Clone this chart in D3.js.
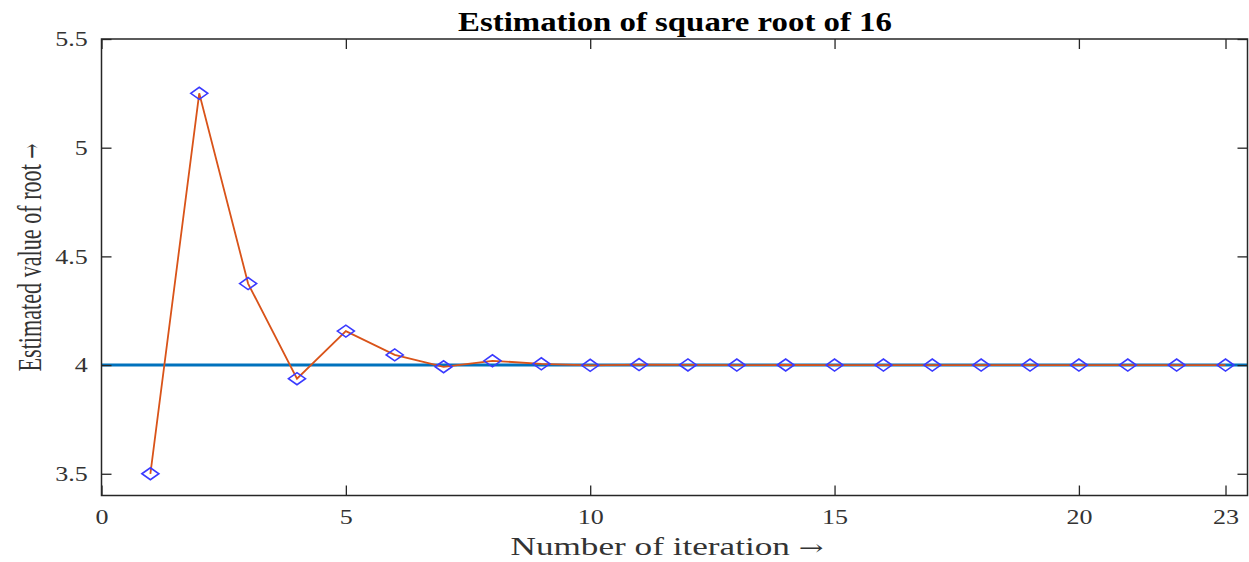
<!DOCTYPE html>
<html><head><meta charset="utf-8">
<script src="https://cdn.jsdelivr.net/npm/d3@7"></script>
<style>body{margin:0;background:#fff}svg{display:block}</style>
</head><body><svg id="c" width="1249" height="562"></svg>
<script>
const iterations = [1,2,3,4,5,6,7,8,9,10,11,12,13,14,15,16,17,18,19,20,21,22,23];
const estimates = [3.5,5.25,4.375,3.9375,4.15625,4.046875,3.9921875,4.0195313,4.0058594,3.9990234,4.0024414,4.0007324,3.9998779,4.0003052,4.0000916,3.9999847,4.0000381,4.0000114,3.9999981,4.0000048,4.0000014,3.9999998,4.0000006];
const trueRoot = 4;
const xTicks = [0,5,10,15,20,23];
const yTicks = [3.5,4,4.5,5,5.5];
const titleText = "Estimation of square root of 16";
const xLabelText = "Number of iteration";
const yLabelText = "Estimated value of root";
const arrow = "\u2192";

const svg = d3.select("#c");
const L=101.5, R=1247.5, T=39, B=495.5;
const SX = 1.24;
const x = d3.scaleLinear().domain([0,23.45]).range([L,R]);
const y = d3.scaleLinear().domain([3.4,5.5]).range([B,T]);
const axisCol = "#262626";
const font = "'Liberation Serif','Times New Roman',serif";

// reference line
svg.append("line").attr("x1",x(0)).attr("x2",x(23.45)).attr("y1",y(trueRoot)).attr("y2",y(trueRoot))
  .attr("stroke","#0072BD").attr("stroke-width",3);

// estimate line
const pts = iterations.map((d,i)=>[d,estimates[i]]);
svg.append("path").datum(pts)
  .attr("d", d3.line().x(d=>x(d[0])).y(d=>y(d[1])))
  .attr("fill","none").attr("stroke","#D95319").attr("stroke-width",1.8);

// markers
svg.selectAll("path.m").data(pts).enter().append("path").attr("class","m")
  .attr("transform",d=>`translate(${x(d[0])},${y(d[1])})`)
  .attr("d","M-8.5,0L0,-6L8.5,0L0,6Z")
  .attr("fill","none").attr("stroke","#3a3aff").attr("stroke-width",1.6);

// axes
const ax = svg.append("g").attr("transform",`translate(0,${B})`)
  .call(d3.axisBottom(x).tickValues(xTicks).tickSizeInner(-10).tickSizeOuter(0).tickPadding(14));
const axT = svg.append("g").attr("transform",`translate(0,${T})`)
  .call(d3.axisTop(x).tickValues(xTicks).tickSizeInner(-10).tickSizeOuter(0).tickFormat(""));
const ay = svg.append("g").attr("transform",`translate(${L},0)`)
  .call(d3.axisLeft(y).tickValues(yTicks).tickSizeInner(-10).tickSizeOuter(0).tickPadding(11).tickFormat(d3.format("")));
const ayR = svg.append("g").attr("transform",`translate(${R},0)`)
  .call(d3.axisRight(y).tickValues(yTicks).tickSizeInner(-10).tickSizeOuter(0).tickFormat(""));
[ax,axT,ay,ayR].forEach(g=>{
  g.selectAll("path.domain").remove();
  g.selectAll(".tick line").attr("stroke",axisCol).attr("stroke-width",1.3);
  g.selectAll("text").attr("font-family",font).attr("font-size",21).attr("fill","#333")
    .attr("transform",`scale(${SX},1)`);
});
// box
svg.append("rect").attr("x",L).attr("y",T).attr("width",R-L).attr("height",B-T)
  .attr("fill","none").attr("stroke",axisCol).attr("stroke-width",1.5);

// title
svg.append("text").attr("transform",`translate(675,30.5) scale(${SX},1)`).attr("text-anchor","middle")
  .attr("font-family",font).attr("font-weight","bold").attr("font-size",26.5).attr("fill","#000")
  .text(titleText);

// x label
const xl = svg.append("text").attr("x",667).attr("y",555).attr("text-anchor","middle")
  .attr("font-family",font).attr("font-size",25).attr("fill","#333")
  .attr("textLength",313).attr("lengthAdjust","spacingAndGlyphs");
xl.append("tspan").text(xLabelText + " ");
xl.append("tspan").attr("font-family","'DejaVu Serif',serif").attr("font-size",21).text(arrow);

// y label
const yl = svg.append("text").attr("transform",`translate(41,257.5) rotate(-90) scale(1,${SX})`).attr("text-anchor","middle")
  .attr("font-family",font).attr("font-size",27).attr("fill","#333")
  .attr("textLength",228).attr("lengthAdjust","spacingAndGlyphs");
yl.append("tspan").text(yLabelText + " ");
yl.append("tspan").attr("font-family","'DejaVu Serif',serif").attr("font-size",22).text(arrow);
</script></body></html>
